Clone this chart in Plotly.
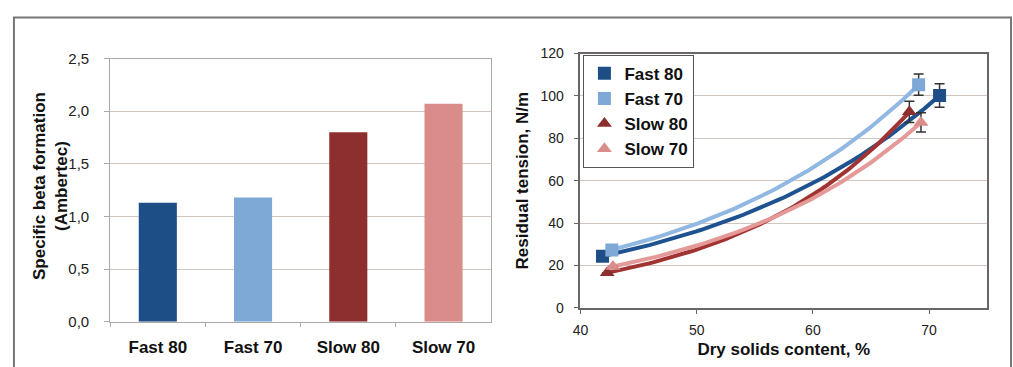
import numpy as np
import plotly.graph_objects as go

# ---- Left chart data ----
bar_categories = ["Fast 80", "Fast 70", "Slow 80", "Slow 70"]
bar_values = [1.13, 1.18, 1.80, 2.07]

# ---- Right chart data ----
series_names = ["Fast 80", "Fast 70", "Slow 80", "Slow 70"]
fast80_x = [41.9, 70.9]
fast80_y = [24.3, 100.2]
fast80_err = [0.0, 5.5]
fast70_x = [42.7, 69.1]
fast70_y = [27.3, 105.3]
fast70_err = [0.0, 5.0]
slow80_x = [42.3, 68.3]
slow80_y = [16.5, 92.5]
slow80_err = [0.0, 5.0]
slow70_x = [42.8, 69.3]
slow70_y = [19.5, 87.5]
slow70_err = [0.0, 4.5]

colors = ["#1d4f86", "#7ea9d6", "#8e2f2f", "#d98c8a"]
line_colors = ["#1f5291", "#90b8e2", "#a23333", "#e49a98"]
symbols = ["square", "square", "triangle-up", "triangle-up"]

W, H = 1013, 367
FONT = "Liberation Sans, Arial, sans-serif"

fig = go.Figure()

# Bars
fig.add_trace(go.Bar(
    x=bar_categories, y=bar_values, marker_color=colors,
    marker_line_width=0, showlegend=False, xaxis="x", yaxis="y",
))

series = [
    (fast80_x, fast80_y, fast80_err),
    (fast70_x, fast70_y, fast70_err),
    (slow80_x, slow80_y, slow80_err),
    (slow70_x, slow70_y, slow70_err),
]

# Exponential trend lines (fit through the data points)
for i, (xs, ys, es) in enumerate(series):
    xs_a = np.array(xs); ys_a = np.array(ys)
    b, ln_a = np.polyfit(xs_a, np.log(ys_a), 1)
    xx = np.linspace(xs_a.min(), xs_a.max(), 80)
    fig.add_trace(go.Scatter(
        x=xx, y=np.exp(ln_a) * np.exp(b * xx), mode="lines",
        line=dict(color=line_colors[i], width=4), showlegend=False,
        hoverinfo="skip", xaxis="x2", yaxis="y2",
    ))

# Markers with error bars
for i, (xs, ys, es) in enumerate(series):
    fig.add_trace(go.Scatter(
        x=xs, y=ys, mode="markers", name=series_names[i],
        marker=dict(symbol=symbols[i], size=13, color=colors[i]),
        error_y=dict(type="data", array=es, color="#333333", thickness=1.5, width=5),
        xaxis="x2", yaxis="y2",
    ))

title_font = dict(family=FONT, size=17, color="#111111", weight="bold")

fig.update_layout(
    width=W, height=H,
    margin=dict(l=0, r=0, t=0, b=0),
    paper_bgcolor="white", plot_bgcolor="white",
    separators=", ",
    bargap=0.6,
    font=dict(family=FONT),
    xaxis=dict(
        domain=[103 / W, 487 / W], anchor="y",
        showline=True, linecolor="#b0a8a4", linewidth=1, mirror=True,
        ticks="outside", ticklen=4, tickcolor="#b0a8a4", tickson="boundaries",
        tickfont=dict(family=FONT, size=17, color="#111111", weight="bold"),
        ticklabelstandoff=10,
        showgrid=False,
    ),
    yaxis=dict(
        domain=[1 - 328 / H, 1 - 52 / H], anchor="x",
        range=[0, 2.5], dtick=0.5, tickformat=".1f",
        showline=True, linecolor="#b0a8a4", linewidth=1, mirror=True,
        ticks="outside", ticklen=5, tickcolor="#b0a8a4",
        showgrid=True, gridcolor="#cfc6c0", gridwidth=1,
        tickfont=dict(family=FONT, size=15, color="#222222"), ticklabelstandoff=12,
    ),
    xaxis2=dict(
        domain=[577 / W, 987 / W], anchor="y2",
        range=[40, 75], tickvals=[40, 50, 60, 70],
        showline=True, linecolor="#6a6666", linewidth=1.5, mirror=True,
        ticks="outside", ticklen=4, tickcolor="#6a6666",
        showgrid=False, zeroline=False,
        tickfont=dict(family=FONT, size=14, color="#222222"), ticklabelstandoff=5,
        title=dict(text="Dry solids content, %", font=title_font, standoff=6),
    ),
    yaxis2=dict(
        domain=[1 - 313.3 / H, 1 - 46.7 / H], anchor="x2",
        range=[0, 120], dtick=20,
        showline=True, linecolor="#6a6666", linewidth=1.5, mirror=True,
        ticks="outside", ticklen=5, tickcolor="#6a6666",
        showgrid=True, gridcolor="#cfc6c0", gridwidth=1, zeroline=False,
        tickfont=dict(family=FONT, size=14, color="#222222"), ticklabelstandoff=7,
        title=dict(text="Residual tension, N/m", font=title_font, standoff=8),
    ),
    legend=dict(
        x=580 / W, y=1 - 48 / H, xanchor="left", yanchor="top",
        bgcolor="white", bordercolor="#555555", borderwidth=1,
        font=dict(family=FONT, size=17, color="#111111", weight="bold"),
        itemwidth=30, tracegroupgap=0,
    ),
    annotations=[dict(
        text="Specific beta formation<br>(Ambertec)", textangle=-90,
        xref="paper", yref="paper", x=43 / W, y=1 - 186 / H,
        xanchor="center", yanchor="middle", showarrow=False,
        font=title_font,
    )],
    shapes=[dict(type="rect", xref="paper", yref="paper",
                 x0=6 / W, x1=1011 / W, y0=-0.2, y1=1 - 9 / H,
                 line=dict(color="#777777", width=2), fillcolor="rgba(0,0,0,0)")],
)

fig.write_html("out.html")
